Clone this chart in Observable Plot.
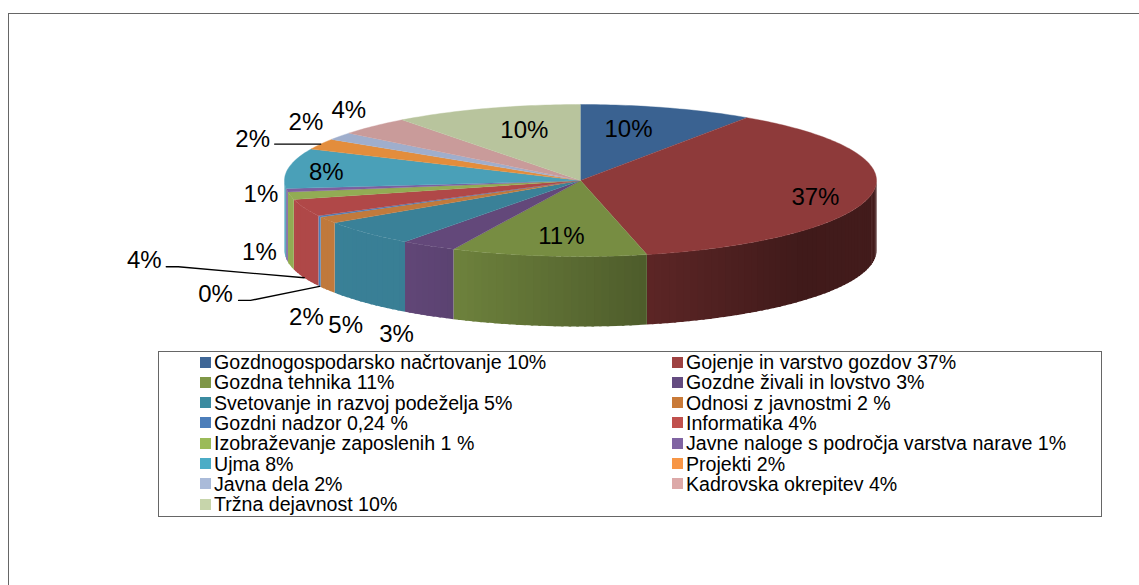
<!DOCTYPE html>
<html>
<head>
<meta charset="utf-8">
<script src="https://cdn.jsdelivr.net/npm/d3@7"></script>
<script src="https://cdn.jsdelivr.net/npm/@observablehq/plot@0.6"></script>
<style>
  html, body { margin: 0; padding: 0; background: #fff; }
  #page { position: relative; width: 1139px; height: 585px; overflow: hidden; font-family: "Liberation Sans", Arial, sans-serif; color: #000; }
  #frame { position: absolute; left: 8px; top: 13px; width: 1140px; height: 600px; border: 1px solid #666; box-sizing: border-box; }
  #chart { position: absolute; left: 0; top: 0; }
  #chart svg { display: block; background: transparent; }
  #legend { position: absolute; left: 157.5px; top: 351px; width: 944px; height: 166px; box-sizing: border-box; border: 1px solid #666; }
  .item { position: absolute; display: flex; align-items: center; height: 20px; font-size: 19.6px; line-height: 20px; white-space: nowrap; }
  .swatch { width: 11px; height: 11px; margin-right: 3px; flex: none; }
</style>
</head>
<body>
<div id="page"><div id="frame"></div><div id="chart"></div><div id="legend"></div></div>
<script>
const shares = [9.5, 36.9, 10.66, 3.04, 5.5, 1.45, 0.25, 3.7, 1.6, 0.7, 8.5, 2.3, 1.6, 4.0, 10.3];
// Data labels printed next to the slices
const labels = ["10%", "37%", "11%", "3%", "5%", "2%", "0%", "4%", "1%", "1%", "8%", "2%", "2%", "4%", "10%"];
// Legend texts
const legendLabels = [
  "Gozdnogospodarsko načrtovanje 10%", "Gojenje in varstvo gozdov 37%",
  "Gozdna tehnika 11%", "Gozdne živali in lovstvo 3%",
  "Svetovanje in razvoj podeželja 5%", "Odnosi z javnostmi 2 %",
  "Gozdni nadzor 0,24 %", "Informatika 4%",
  "Izobraževanje zaposlenih 1 %", "Javne naloge s področja varstva narave 1%",
  "Ujma 8%", "Projekti 2%",
  "Javna dela 2%", "Kadrovska okrepitev 4%",
  "Tržna dejavnost 10%"
];
const topColors = ["#3a6291", "#8e3a3a", "#778d42", "#63487a", "#3a8198", "#c17a3c", "#4a7ebb", "#b04848", "#92ac54", "#7e5f9f", "#4aa0b8", "#e38d3c", "#9faecc", "#c99b9a", "#b8c49d"];
const legendColors = ["#3f6797", "#9e4141", "#7f9747", "#644b80", "#3b8ba0", "#c97a38", "#4c7eba", "#c0504d", "#9bbb59", "#8064a2", "#4bacc6", "#f79646", "#aabbd9", "#dca9a8", "#c7d5ab"];

// Label placement: offset from the slice's rim point at its mid angle
const labelOffsets = [[-39, 21], [-56, 3], [13, -19.5], [-32, 89], [-21, 92], [-21, 97], [-104, 78], [-160, 53], [-31, 57], [-26, 4], [38, 4], [-68, -5], [-34, -14], [-25, -16], [38, 22]];

// Ellipse geometry of the tilted pie
const cx = 580, cy = 180, rx = 296, ry = 76, depth = 70;
const total = d3.sum(shares);
const cum = d3.cumsum(shares).map(v => v / total * 360);
const starts = [0, ...cum.slice(0, -1)];
const rad = a => a * Math.PI / 180;
const px = a => cx + rx * Math.sin(rad(a));
const py = a => cy - ry * Math.cos(rad(a));
const shade = d3.scaleLinear().domain([284, 404, 453, 647, 800, 876]).range([1, 0.98, 0.92, 0.65, 0.45, 0.47]).clamp(true);

const topPts = [], wallPts = [];
shares.forEach((_, i) => {
  const a0 = starts[i], a1 = cum[i], n = Math.max(2, Math.ceil(a1 - a0));
  topPts.push({x: cx, y: cy, z: i, c: topColors[i]});
  for (let k = 0; k <= n; k++) {
    const a = a0 + (a1 - a0) * k / n;
    topPts.push({x: px(a), y: py(a), z: i, c: topColors[i]});
  }
  // Side wall, visible on the front half only, split in strips for shading;
  // each strip runs a little under the next one so that no seams show
  const w0 = Math.max(a0, 90), w1 = Math.min(a1, 270);
  if (w1 > w0) {
    const m = Math.max(1, Math.ceil((w1 - w0) / 1.5));
    for (let k = 0; k < m; k++) {
      const s = w0 + (w1 - w0) * k / m, e = w0 + (w1 - w0) * (k + 1) / m;
      const over = Math.min(e + 0.5, w1);
      const base = d3.rgb(topColors[i]), f = shade((px(s) + px(e)) / 2);
      const c = d3.rgb(base.r * f, base.g * f, base.b * f).formatHex();
      const z = String(i).padStart(2, "0") + "-" + String(k).padStart(3, "0");
      [[s, 0], [over, 0], [over, depth], [s, depth], [s, 0]].forEach(([a, d]) =>
        wallPts.push({x: px(a), y: py(a) + d, z, c}));
    }
  }
});

const mids = starts.map((s, i) => (s + cum[i]) / 2);
const labelPts = labels.map((t, i) => ({
  t, x: px(mids[i]) + labelOffsets[i][0], y: py(mids[i]) + labelOffsets[i][1]
}));

// Leader lines: from beside the label to the slice's rim
const leaders = [
  {i: 7, start: [22, 6], elbow: [34, 6], drop: depth},
  {i: 6, start: [23, 6], elbow: [35, 6], drop: depth},
  {i: 11, start: [22, 5], elbow: [34, 5], drop: 0}
];
const leaderPts = leaders.flatMap(({i, start, elbow, drop}) => [
  {x: labelPts[i].x + start[0], y: labelPts[i].y + start[1], z: i},
  {x: labelPts[i].x + elbow[0], y: labelPts[i].y + elbow[1], z: i},
  {x: px(mids[i]), y: py(mids[i]) + drop, z: i}
]);

const chart = Plot.plot({
  width: 1139, height: 346,
  margin: 0,
  x: {domain: [0, 1139], range: [0, 1139], axis: null},
  y: {domain: [0, 346], range: [0, 346], axis: null},
  color: {type: "identity"},
  marks: [
    Plot.line(wallPts, {x: "x", y: "y", z: "z", fill: "c"}),
    Plot.line(topPts, {x: "x", y: "y", z: "z", fill: "c", stroke: "c", strokeWidth: 0.4}),
    Plot.line(leaderPts, {x: "x", y: "y", z: "z", stroke: "#000", strokeWidth: 1.4}),
    Plot.text(labelPts, {x: "x", y: "y", text: "t", fontSize: 24, fontFamily: "Liberation Sans, Arial, sans-serif", fill: "#000", textAnchor: "middle", lineAnchor: "middle"})
  ]
});
document.getElementById("chart").appendChild(chart);

// Legend: two columns, filled row by row
const legend = document.getElementById("legend");
legendLabels.forEach((t, i) => {
  const row = Math.floor(i / 2), col = i % 2;
  const el = document.createElement("div");
  el.className = "item";
  el.style.left = (col ? 513.5 : 41.5) + "px";
  el.style.top = (row * 20.3) + "px";
  const sw = document.createElement("span");
  sw.className = "swatch";
  sw.style.background = legendColors[i];
  const tx = document.createElement("span");
  tx.textContent = t;
  el.append(sw, tx);
  legend.appendChild(el);
});
</script>
</body>
</html>
